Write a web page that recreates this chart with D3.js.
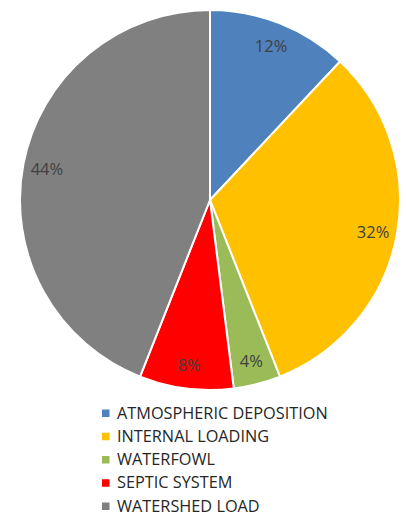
<!DOCTYPE html>
<html><head><meta charset="utf-8">
<script src="https://cdn.jsdelivr.net/npm/d3@7/dist/d3.min.js"></script>
<style>body{margin:0;background:#fff}svg{display:block}</style>
</head><body>
<svg id="c" width="406" height="517"></svg>
<script>
const categories = ["ATMOSPHERIC DEPOSITION","INTERNAL LOADING","WATERFOWL","SEPTIC SYSTEM","WATERSHED LOAD"];
const values = [12, 32, 4, 8, 44];
const colors = ["#4F81BD","#FFC000","#9BBB59","#FF0000","#808080"];

const svg = d3.select("#c");
const cx = 210, cy = 200, R = 190, labelR = 166;
const FONT = "'Open Sans','Noto Sans',sans-serif";
const data = categories.map((c,i)=>({cat:c, value:values[i], color:colors[i]}));
const pie = d3.pie().value(d=>d.value).sort(null);
const arcs = pie(data);
const arc = d3.arc().innerRadius(0).outerRadius(R);
const larc = d3.arc().innerRadius(labelR).outerRadius(labelR);
const total = d3.sum(values);
const g = svg.append("g").attr("transform",`translate(${cx},${cy})`);
g.selectAll("path").data(arcs).join("path")
  .attr("d",arc).attr("fill",d=>d.data.color)
  .attr("stroke","#fff").attr("stroke-width",2).attr("stroke-linejoin","round");
g.selectAll("text").data(arcs).join("text")
  .attr("transform",d=>`translate(${larc.centroid(d)})`)
  .attr("text-anchor","middle").attr("dominant-baseline","central")
  .attr("font-family",FONT).attr("font-size",16.5).attr("fill","#404040")
  .text(d=>Math.round(d.data.value/total*100)+"%");

const leg = svg.append("g");
const rowY = d3.scalePoint().domain(categories).range([413,506]);
const items = leg.selectAll("g").data(data).join("g")
  .attr("transform",d=>`translate(102,${rowY(d.cat)})`);
items.append("rect").attr("x",0).attr("y",-3.5).attr("width",7.5).attr("height",7.5).attr("fill",d=>d.color);
items.append("text").attr("x",15).attr("y",5.6)
  .attr("font-family",FONT).attr("font-size",16.3).attr("fill","#262626")
  .text(d=>d.cat);
</script>
</body></html>
